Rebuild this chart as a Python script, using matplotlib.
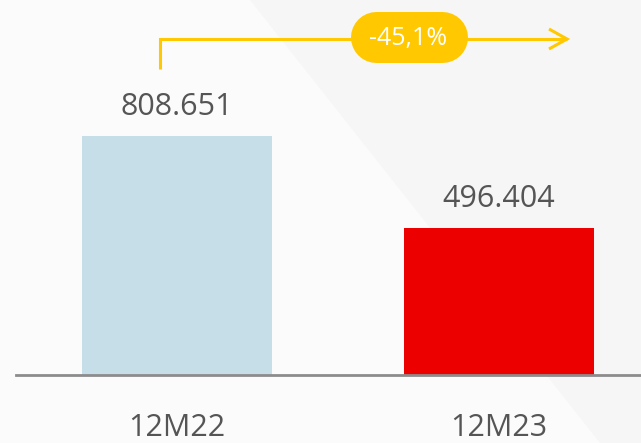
import matplotlib
matplotlib.use("Agg")
import matplotlib.pyplot as plt
from matplotlib.patches import Polygon
from matplotlib.transforms import IdentityTransform
from matplotlib.lines import Line2D

categories = ["12M22", "12M23"]
values = [808651, 496404]
bar_colors = ["#c5dee7", "#ec0000"]
change_label = "-45,1%"

W, H = 641, 443
plt.rcParams['font.family'] = ['Open Sans', 'DejaVu Sans']

fig = plt.figure(figsize=(W / 100, H / 100), dpi=100, facecolor="#f6f6f6")


def px(x, y):
    return (x, H - y)


bg = Polygon([px(0, 0), px(250, 0), px(600, 443), px(0, 443)], closed=True,
             transform=IdentityTransform(), facecolor="#fbfbfb", edgecolor="none", zorder=-5)
fig.patches.append(bg)

# axes: left 16px, bottom at y=375
ax_left, ax_bottom_y, ax_top_y = 16, 375, 0
ax = fig.add_axes([ax_left / W, (H - ax_bottom_y) / H, (W - ax_left) / W, (ax_bottom_y - ax_top_y) / H])
ax.set_facecolor("none")

x = list(range(len(categories)))
ax.bar(x, values, width=0.59, color=bar_colors, zorder=2)
ax.set_xlim(-0.5, 1.441)
ax.set_ylim(0, 808651 * 375 / 239)

for xi, v in zip(x, values):
    ax.annotate(f"{v:,}".replace(",", "."), (xi, v), xytext=(0, 15), textcoords="offset points",
                ha="center", va="baseline", fontsize=22, color="#555555")

for s in ["top", "right", "left"]:
    ax.spines[s].set_visible(False)
ax.spines["bottom"].set_color("#8c8c8c")
ax.spines["bottom"].set_linewidth(2)
ax.set_yticks([])
ax.set_xticks(x)
ax.set_xticklabels(categories, fontsize=22, color="#555555")
ax.tick_params(axis="x", length=0, pad=27)

# change arrow (pixel coordinates)
yellow = "#ffc800"
arrow_y = 39
line = Line2D([160, 160, 567], [H - 69, H - arrow_y, H - arrow_y], transform=IdentityTransform(),
              color=yellow, lw=2.2, solid_joinstyle="miter", solid_capstyle="butt", zorder=3)
fig.lines.append(line)
head = Line2D([549, 567, 549], [H - arrow_y + 10, H - arrow_y, H - arrow_y - 10], transform=IdentityTransform(),
              color=yellow, lw=2.2, solid_joinstyle="miter", solid_capstyle="butt", zorder=3)
fig.lines.append(head)

pill_x0, pill_x1, pill_y0, pill_y1 = 350, 467, 11, 62
ph = pill_y1 - pill_y0
pill = Line2D([pill_x0 + ph / 2, pill_x1 - ph / 2], [H - (pill_y0 + pill_y1) / 2] * 2,
              transform=IdentityTransform(), color=yellow, lw=ph * 0.72,
              solid_capstyle="round", zorder=5)
fig.lines.append(pill)
fig.text((pill_x0 + pill_x1) / 2 / W, (H - 45) / H, change_label, ha="center", va="baseline",
         fontsize=18, color="white", zorder=6)

fig.savefig("out.png", dpi=100, facecolor=fig.get_facecolor())
